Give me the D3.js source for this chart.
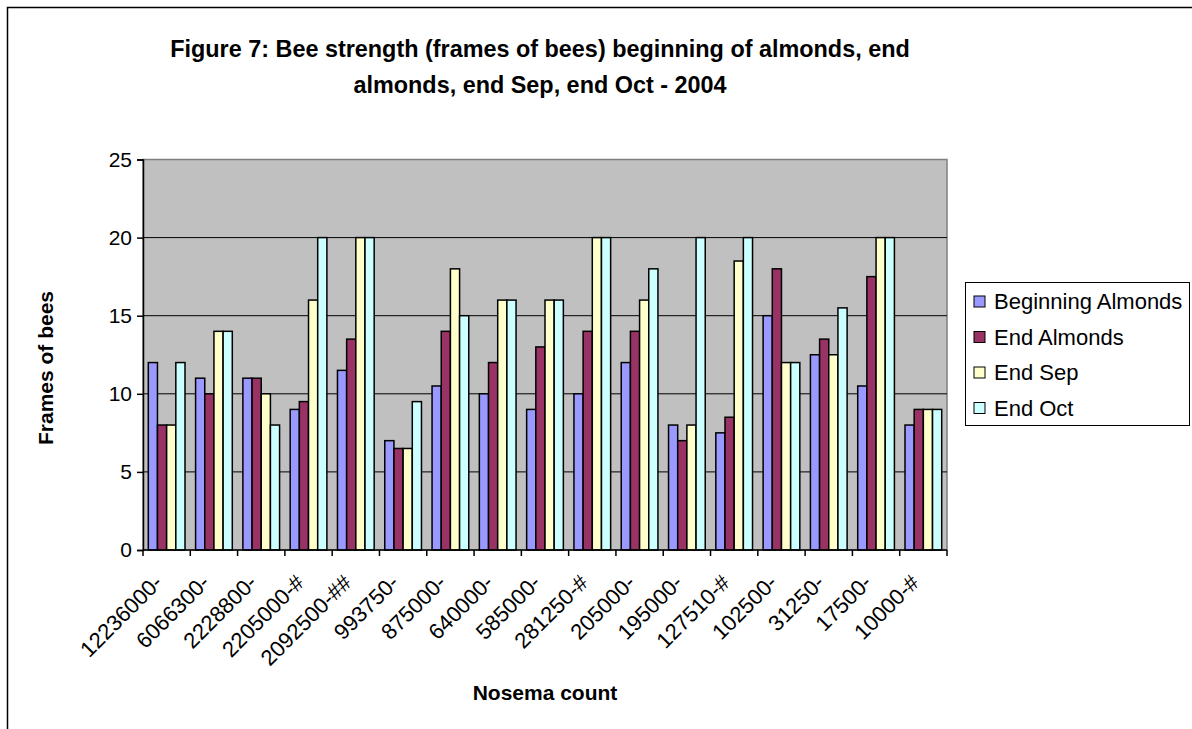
<!DOCTYPE html>
<html>
<head>
<meta charset="utf-8">
<script src="https://cdn.jsdelivr.net/npm/d3@7"></script>
<style>
  html, body { margin: 0; padding: 0; background: #fff; }
  svg { display: block; font-family: "Liberation Sans", Arial, sans-serif; }
</style>
</head>
<body>
<svg id="chart" width="1192" height="729"></svg>
<script>
// Nosema count per colony (category labels along the x axis)
const categories = [
  "12236000-", "6066300-", "2228800-", "2205000-#", "2092500-##", "993750-",
  "875000-", "640000-", "585000-", "281250-#", "205000-", "195000-",
  "127510-#", "102500-", "31250-", "17500-", "10000-#"
];

// Frames of bees at each inspection
const beginningAlmonds = [12, 11, 11, 9, 11.5, 7, 10.5, 10, 9, 10, 12, 8, 7.5, 15, 12.5, 10.5, 8];
const endAlmonds       = [8, 10, 11, 9.5, 13.5, 6.5, 14, 12, 13, 14, 14, 7, 8.5, 18, 13.5, 17.5, 9];
const endSep           = [8, 14, 10, 16, 20, 6.5, 18, 16, 16, 20, 16, 8, 18.5, 12, 12.5, 20, 9];
const endOct           = [12, 14, 8, 20, 20, 9.5, 15, 16, 16, 20, 18, 20, 20, 12, 15.5, 20, 9];

const seriesNames = ["Beginning Almonds", "End Almonds", "End Sep", "End Oct"];
const seriesColors = ["#9999FF", "#993366", "#FFFFCC", "#CCFFFF"];
const yTicks = [0, 5, 10, 15, 20, 25];

const seriesValues = [beginningAlmonds, endAlmonds, endSep, endOct];

const svg = d3.select("#chart");

// outer chart frame
svg.append("rect")
  .attr("x", 7.5).attr("y", 7.5)
  .attr("width", 1300).attr("height", 900)
  .attr("fill", "#fff").attr("stroke", "#000").attr("stroke-width", 1.5);

// title
const title = svg.append("text")
  .attr("text-anchor", "middle")
  .attr("font-weight", "bold")
  .attr("font-size", 23.4)
  .attr("fill", "#000");
title.append("tspan").attr("x", 540).attr("y", 57)
  .text("Figure 7: Bee strength (frames of bees) beginning of almonds, end");
title.append("tspan").attr("x", 540).attr("y", 93)
  .text("almonds, end Sep, end Oct - 2004");

// plot area
const plot = { left: 143, right: 947, top: 159.5, bottom: 550 };

const x = d3.scaleBand()
  .domain(categories)
  .range([plot.left, plot.right])
  .paddingInner(0).paddingOuter(0);

const y = d3.scaleLinear()
  .domain([0, 25])
  .range([plot.bottom, plot.top]);

const groupPad = x.bandwidth() * 0.112;
const xs = d3.scaleBand()
  .domain(d3.range(seriesNames.length))
  .range([groupPad, x.bandwidth() - groupPad]);

svg.append("rect")
  .attr("x", plot.left).attr("y", plot.top)
  .attr("width", plot.right - plot.left)
  .attr("height", plot.bottom - plot.top)
  .attr("fill", "#C0C0C0")
  .attr("stroke", "#808080").attr("stroke-width", 1.5);

// horizontal gridlines
svg.append("g")
  .selectAll("line")
  .data(yTicks.filter(d => d > 0 && d < 25))
  .join("line")
  .attr("x1", plot.left).attr("x2", plot.right)
  .attr("y1", d => y(d)).attr("y2", d => y(d))
  .attr("stroke", "#000").attr("stroke-width", 1);

// bars
const groups = svg.append("g")
  .selectAll("g")
  .data(categories)
  .join("g")
  .attr("transform", d => `translate(${x(d)},0)`);

groups.selectAll("rect")
  .data((d, i) => seriesValues.map((vals, s) => ({ s, v: vals[i] })))
  .join("rect")
  .attr("x", d => xs(d.s))
  .attr("y", d => y(d.v))
  .attr("width", xs.bandwidth())
  .attr("height", d => y(0) - y(d.v))
  .attr("fill", d => seriesColors[d.s])
  .attr("stroke", "#000")
  .attr("stroke-width", 1.5);

// y axis
const yAxis = svg.append("g")
  .attr("transform", `translate(${plot.left},0)`)
  .call(d3.axisLeft(y).tickValues(yTicks).tickSize(6).tickPadding(5).tickFormat(d3.format("d")));
yAxis.select(".domain").attr("stroke", "#000").attr("stroke-width", 1.5);
yAxis.selectAll(".tick line").attr("stroke", "#000").attr("stroke-width", 1.5);
yAxis.selectAll(".tick text")
  .attr("font-size", 21).attr("font-family", "Liberation Sans, Arial, sans-serif")
  .attr("fill", "#000");

// x axis line with ticks at category boundaries
const xAxisG = svg.append("g");
xAxisG.append("line")
  .attr("x1", plot.left).attr("x2", plot.right)
  .attr("y1", plot.bottom).attr("y2", plot.bottom)
  .attr("stroke", "#000").attr("stroke-width", 1.5);
const boundaries = categories.map(c => x(c)).concat([plot.right]);
xAxisG.selectAll("line.tk")
  .data(boundaries)
  .join("line")
  .attr("class", "tk")
  .attr("x1", d => d).attr("x2", d => d)
  .attr("y1", plot.bottom).attr("y2", plot.bottom + 6)
  .attr("stroke", "#000").attr("stroke-width", 1.5);

xAxisG.selectAll("text")
  .data(categories)
  .join("text")
  .attr("text-anchor", "end")
  .attr("font-size", 22)
  .attr("fill", "#000")
  .attr("transform", d => `translate(${x(d) + x.bandwidth() / 2 - 3},${plot.bottom + 34}) rotate(-45)`)
  .text(d => d);

// axis titles
svg.append("text")
  .attr("text-anchor", "middle")
  .attr("font-weight", "bold").attr("font-size", 21)
  .attr("transform", `translate(53,368) rotate(-90)`)
  .text("Frames of bees");

svg.append("text")
  .attr("text-anchor", "middle")
  .attr("font-weight", "bold").attr("font-size", 21)
  .attr("x", 545).attr("y", 700)
  .text("Nosema count");

// legend
const legend = svg.append("g");
legend.append("rect")
  .attr("x", 965.5).attr("y", 282.5)
  .attr("width", 224).attr("height", 143)
  .attr("fill", "#fff").attr("stroke", "#000").attr("stroke-width", 1);

const rowY = d3.scalePoint().domain(seriesNames).range([301.5, 408]);
const items = legend.selectAll("g.item")
  .data(seriesNames)
  .join("g")
  .attr("class", "item")
  .attr("transform", d => `translate(0,${rowY(d)})`);
items.append("rect")
  .attr("x", 974).attr("y", -5.5)
  .attr("width", 11).attr("height", 11)
  .attr("fill", (d, i) => seriesColors[i])
  .attr("stroke", "#000").attr("stroke-width", 1);
items.append("text")
  .attr("x", 994).attr("dy", "0.35em")
  .attr("font-size", 22)
  .attr("fill", "#000")
  .text(d => d);
</script>
</body>
</html>
